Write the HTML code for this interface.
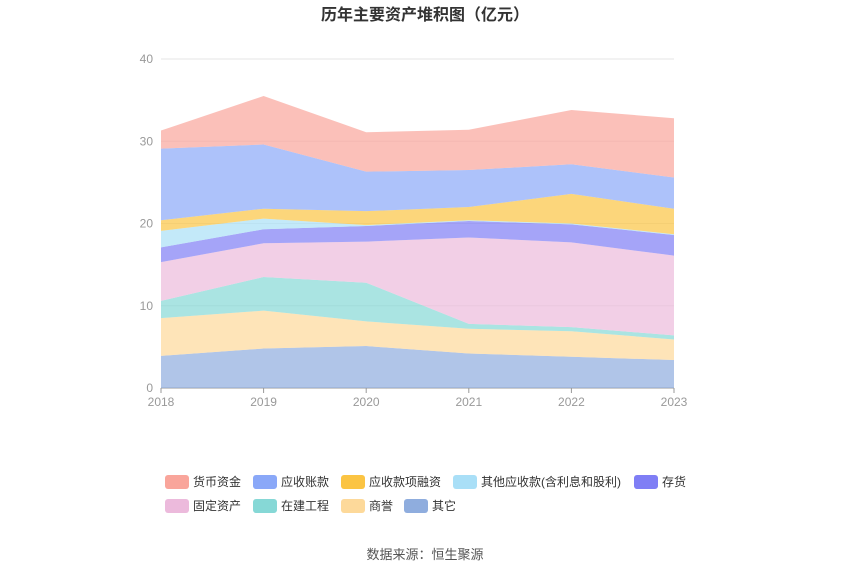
<!DOCTYPE html>
<html><head><meta charset="utf-8"><style>
body{margin:0;background:#fff;font-family:"Liberation Sans","Noto Sans CJK SC",sans-serif;}
</style></head><body>
<svg width="850" height="575" xmlns="http://www.w3.org/2000/svg">
<text x="425" y="20" text-anchor="middle" font-size="16" font-weight="bold" fill="#333">历年主要资产堆积图（亿元）</text>
<g id="grid"></g><g id="areas"></g><g id="axes"></g><g id="legend"></g>
<text x="425" y="559" text-anchor="middle" font-size="13" fill="#555">数据来源：恒生聚源</text>
</svg>
<script>
const years=['2018','2019','2020','2021','2022','2023'];
const seriesNames=['其它','商誉','在建工程','固定资产','存货','其他应收款(含利息和股利)','应收款项融资','应收账款','货币资金'];
const other=[3.9,4.8,5.1,4.2,3.8,3.4];
const goodwill=[4.6,4.6,3.0,3.0,3.1,2.5];
const construction=[2.1,4.1,4.7,0.6,0.5,0.5];
const fixedAssets=[4.7,4.1,5.0,10.5,10.3,9.7];
const inventory=[1.8,1.7,1.9,2.0,2.2,2.5];
const otherRecv=[2.0,1.3,0.1,0.1,0.1,0.1];
const recvFinancing=[1.3,1.2,1.7,1.6,3.6,3.1];
const accountsRecv=[8.7,7.8,4.8,4.5,3.6,3.8];
const cash=[2.2,5.9,4.8,4.9,6.6,7.2];
const yTicks=[0,10,20,30,40];
const seriesData=[other,goodwill,construction,fixedAssets,inventory,otherRecv,recvFinancing,accountsRecv,cash];
const colors=['#8fadde','#fdd99a','#86d8d6','#ecbadc','#7f7ef5','#a9dff7','#fbc443','#8aa8f8','#f9a59b'];
const NS='http://www.w3.org/2000/svg';
const x0=161,x1=674,yb=388,yt=59,ymax=40;
const X=i=>x0+(x1-x0)*i/(years.length-1);
const Y=v=>yb-(yb-yt)*v/ymax;
function mk(tag,attrs,parent){const e=document.createElementNS(NS,tag);for(const k in attrs)e.setAttribute(k,attrs[k]);document.getElementById(parent).appendChild(e);return e;}
yTicks.forEach(t=>{
 const l=mk('line',{x1:x0,x2:x1,y1:Y(t),y2:Y(t),stroke:t===0?'#999':'#e6e6e6','stroke-width':1},'grid');
 
 
 const tx=mk('text',{x:x0-8,y:Y(t)+4,'text-anchor':'end','font-size':12,fill:'#999'},'axes');
 tx.textContent=t;
 
 
});
years.forEach((y,i)=>{
 const tk=mk('line',{x1:X(i),x2:X(i),y1:yb,y2:yb+5,stroke:'#999'},'axes');
 
 
 const tx=mk('text',{x:X(i),y:yb+18,'text-anchor':'middle','font-size':12,fill:'#999'},'axes');
 tx.textContent=y;
 
 
});
let base=years.map(()=>0);
seriesData.forEach((s,k)=>{
 const top=base.map((b,i)=>b+s[i]);
 let d='M'+top.map((v,i)=>X(i)+','+Y(v)).join(' L');
 for(let i=years.length-1;i>=0;i--)d+=' L'+X(i)+','+Y(base[i]);
 d+=' Z';
 const p=mk('path',{d:d,fill:colors[k],'fill-opacity':0.7,stroke:'none'},'areas');
 
 
 base=top;
});
const legendOrder=[8,7,6,5,4,3,2,1,0];
const pos=[[165,482],[253,482],[341,482],[453,482],[634,482],[165,506],[253,506],[341,506],[404,506]];
legendOrder.forEach((k,j)=>{
 const [lx,ly]=pos[j];
 const r=mk('rect',{x:lx,y:ly-7,width:24,height:14,rx:3,fill:colors[k]},'legend');
 
 
 const t=mk('text',{x:lx+28,y:ly+4,'font-size':12,fill:'#333'},'legend');
 t.textContent=seriesNames[k];
 
 
});
</script>
</body></html>
